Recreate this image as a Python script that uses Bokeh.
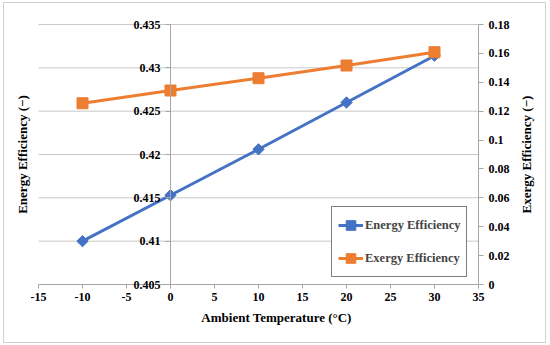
import math
from bokeh.plotting import figure
from bokeh.models import (LinearAxis, Range1d, FixedTicker, Legend, LegendItem,
                          ColumnDataSource, Label)
from bokeh.embed import file_html
from bokeh.resources import INLINE

# ---- data ----
temperature = [-10, 0, 10, 20, 30]
energy_eff = [0.4100, 0.4153, 0.4206, 0.4260, 0.4314]
exergy_eff = [0.1255, 0.1343, 0.1428, 0.1516, 0.1608]

x_ticks = [-15, -10, -5, 0, 5, 10, 15, 20, 25, 30, 35]
x_labels = ["-15", "-10", "-5", "0", "5", "10", "15", "20", "25", "30", "35"]
left_ticks = [0.405, 0.41, 0.415, 0.42, 0.425, 0.43, 0.435]
left_labels = ["0.405", "0.41", "0.415", "0.42", "0.425", "0.43", "0.435"]
right_ticks = [0.0, 0.02, 0.04, 0.06, 0.08, 0.1, 0.12, 0.14, 0.16, 0.18]
right_labels = ["0", "0.02", "0.04", "0.06", "0.08", "0.1", "0.12", "0.14", "0.16", "0.18"]
x_min, x_max = -15, 35
left_min, left_max = 0.405, 0.435
right_min, right_max = 0.0, 0.18
left_axis_cross = 0

x_title = "Ambient Temperature (°C)"
left_title = "Energy Efficiency (−)"
right_title = "Exergy Efficiency (−)"

BLUE = "#4472C4"
ORANGE = "#ED7D31"
GRID = "#c8c8c8"
AXIS = "#a6a6a6"
FONT = "Liberation Serif"

# ---- layout (pixels) ----
FRAME_W, FRAME_H = 539, 337          # frame fills the whole chart box
PLOT_L, PLOT_R = 33, 473             # plot area inside the frame (x)
PLOT_T, PLOT_B = 20, 280             # plot area inside the frame (y, from top)

x_px = (PLOT_R - PLOT_L) / (x_max - x_min)
ly_px = (PLOT_B - PLOT_T) / (left_max - left_min)
ry_px = (PLOT_B - PLOT_T) / (right_max - right_min)

x_range = Range1d(x_min - PLOT_L / x_px, x_max + (FRAME_W - PLOT_R) / x_px)
y_range = Range1d(left_min - (FRAME_H - PLOT_B) / ly_px, left_max + PLOT_T / ly_px)
r_range = Range1d(right_min - (FRAME_H - PLOT_B) / ry_px, right_max + PLOT_T / ry_px)

p = figure(frame_width=FRAME_W, frame_height=FRAME_H,
           x_range=x_range, y_range=y_range,
           x_axis_type=None, y_axis_type=None,
           output_backend="svg", toolbar_location=None,
           min_border_left=1, min_border_right=1,
           min_border_top=1, min_border_bottom=1)
p.outline_line_color = None
p.extra_y_ranges = {"exergy": r_range}
p.styles = {"border": "1px solid #d0d0d0"}
p.margin = (2, 0, 0, 3)


def style_axis(ax):
    ax.axis_line_color = AXIS
    ax.major_tick_line_color = AXIS
    ax.minor_tick_line_color = None
    ax.major_tick_in = 0
    ax.major_tick_out = 5
    ax.major_label_text_font = FONT
    ax.major_label_text_font_style = "bold"
    ax.major_label_text_font_size = "12px"
    ax.major_label_text_color = "black"


# horizontal gridlines, only across the plot area
p.segment(x0=[x_min] * len(left_ticks), x1=[x_max] * len(left_ticks),
          y0=left_ticks, y1=left_ticks, line_color=GRID, line_width=1)

# x axis along the bottom of the plot area
xax = LinearAxis(ticker=FixedTicker(ticks=x_ticks), fixed_location=left_min,
                 bounds=(x_min, x_max),
                 major_label_overrides=dict(zip(x_ticks, x_labels)))
style_axis(xax)
xax.major_tick_out = 4
xax.major_label_standoff = 4
p.add_layout(xax, "below")

# left axis crossing at x = 0
lax = LinearAxis(ticker=FixedTicker(ticks=left_ticks), fixed_location=left_axis_cross,
                 bounds=(left_min, left_max),
                 major_label_overrides=dict(zip(left_ticks, left_labels)))
style_axis(lax)
lax.major_label_standoff = 5
p.add_layout(lax, "left")

# right axis at the right end of the plot area
rax = LinearAxis(y_range_name="exergy", ticker=FixedTicker(ticks=right_ticks),
                 fixed_location=x_max, bounds=(right_min, right_max),
                 major_label_overrides=dict(zip(right_ticks, right_labels)))
style_axis(rax)
rax.major_label_standoff = 5
p.add_layout(rax, "right")

# axis titles
title_style = dict(text_font=FONT, text_font_style="bold", text_font_size="13px",
                   text_color="black", text_align="center", text_baseline="middle",
                   x_units="screen", y_units="screen")
p.add_layout(Label(x=(PLOT_L + PLOT_R) / 2 + 18, y=FRAME_H - PLOT_B - 33,
                   text=x_title, **title_style))
p.add_layout(Label(x=17, y=FRAME_H - (PLOT_T + PLOT_B) / 2, angle=math.pi / 2,
                   text=left_title, **title_style))
p.add_layout(Label(x=PLOT_R + 48, y=FRAME_H - (PLOT_T + PLOT_B) / 2, angle=math.pi / 2,
                   text=right_title, **title_style))

# series
src_e = ColumnDataSource(dict(x=temperature, y=energy_eff))
src_x = ColumnDataSource(dict(x=temperature, y=exergy_eff))

l1 = p.line("x", "y", source=src_e, line_color=BLUE, line_width=3)
s1 = p.scatter("x", "y", source=src_e, marker="square", angle=math.pi / 4, size=8,
               fill_color=BLUE, line_color=BLUE)
l2 = p.line("x", "y", source=src_x, y_range_name="exergy", line_color=ORANGE, line_width=3)
s2 = p.scatter("x", "y", source=src_x, y_range_name="exergy", marker="square", size=11,
               fill_color=ORANGE, line_color=ORANGE)

legend = Legend(items=[LegendItem(label="Energy Efficiency", renderers=[l1, s1]),
                       LegendItem(label="Exergy Efficiency", renderers=[l2, s2])],
                location=(326, FRAME_H - PLOT_B + 7))
legend.border_line_color = "black"
legend.border_line_width = 1
legend.background_fill_color = "white"
legend.background_fill_alpha = 1
legend.label_text_font = FONT
legend.label_text_font_style = "bold"
legend.label_text_font_size = "12.5px"
legend.glyph_width = 25
legend.glyph_height = 24
legend.label_height = 24
legend.spacing = 9
legend.padding = 6
legend.label_standoff = 2
legend.margin = 0
p.add_layout(legend, "center")

open("out.html", "w").write(file_html(p, INLINE))
